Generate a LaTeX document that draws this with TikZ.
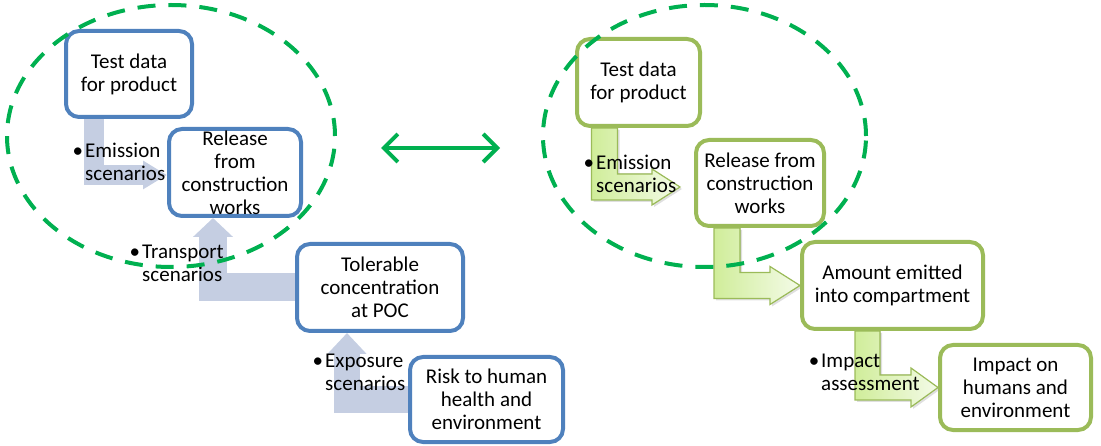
\documentclass[tikz,border=0pt]{standalone}
\usepackage{fontspec}
\setmainfont{Carlito}
\usetikzlibrary{arrows.meta,positioning,calc,shadows,backgrounds}

\definecolor{boxblue}{HTML}{4F81BD}
\definecolor{boxgreen}{HTML}{9BBB59}
\definecolor{ringgreen}{HTML}{00B050}
\definecolor{arrowblue}{HTML}{C5CEE2}
\definecolor{arrowlime}{HTML}{D0ED9A}
\definecolor{arrowpale}{HTML}{F4FBE8}

% bent block arrow: start, tip, shaft half width, head half width, head length
\newcommand{\limearrow}[5]{%
  \filldraw[limearrow] let \p1=(#1), \p2=(#2) in
    (\x1-#3,\y1) -- (\x1+#3,\y1) -- (\x1+#3,\y2+#3) -- (\x2-#5,\y2+#3)
    -- (\x2-#5,\y2+#4) -- (\x2,\y2) -- (\x2-#5,\y2-#4) -- (\x2-#5,\y2-#3)
    -- (\x1-#3,\y2-#3) -- cycle;}

\begin{document}
\begin{tikzpicture}[x=1pt,y=-1pt,font=\fontsize{21}{23}\selectfont,
    bluebox/.style={draw=boxblue,line width=4pt,fill=white,rounded corners=13pt,align=center,inner sep=1pt},
    greenbox/.style={bluebox,draw=boxgreen},
    tag/.style={align=left,anchor=base west,inner sep=0pt},
    bluearrow/.style={draw=arrowblue,line join=miter},
    limearrow/.style={draw=boxgreen,line width=1.2pt,left color=arrowlime,right color=arrowpale,
      drop shadow={opacity=0.25,shadow xshift=2pt,shadow yshift=-2pt}},
    ring/.style={draw=ringgreen,line width=4pt,dash pattern=on 18pt off 13pt}]
    \useasboundingbox (0,0) rectangle (1101,446);

    % left chain
    \node[bluebox,minimum width=126pt,minimum height=86pt] (test1) at (129,74) {Test data\\for product};
    \node[bluebox,minimum width=132pt,minimum height=87pt] (rel1) [below right=8pt and -27pt of test1] {Release\\from\\construction\\works};
    \node[bluebox,minimum width=166pt,minimum height=87pt] (tol) [below right=24pt and -8pt of rel1] {Tolerable\\concentration\\at POC};
    \node[bluebox,minimum width=153pt,minimum height=85pt] (risk) [below right=22pt and -57pt of tol] {Risk to human\\health and\\environment};

    % right chain
    \node[greenbox,minimum width=123pt,minimum height=87pt] (test2) at (638.5,82.5) {Test data\\for product};
    \node[greenbox,minimum width=128pt,minimum height=86pt] (rel2) [below right=10pt and -8pt of test2] {Release from\\construction\\works};
    \node[greenbox,minimum width=181pt,minimum height=87pt] (amount) [below right=12pt and -26pt of rel2] {Amount emitted\\into compartment};
    \node[greenbox,minimum width=151pt,minimum height=85pt] (impact) [below right=12pt and -47pt of amount] {Impact on\\humans and\\environment};

    \begin{scope}[on background layer]
    \draw[bluearrow,line width=20pt,-{Triangle[length=24pt,width=27pt]}] ([xshift=-35.5pt]test1.south) |- ([yshift=-2.5pt]rel1.west);
    \draw[bluearrow,line width=28pt,-{Triangle[length=19pt,width=39pt]}] (tol.west) -| ([xshift=-22pt]rel1.south);
    \draw[bluearrow,line width=26pt,-{Triangle[length=21pt,width=38pt]}] (risk.west) -| ([xshift=-33pt]tol.south);

    \limearrow{[xshift=-34pt]test2.south}{[xshift=-14pt,yshift=-4pt]rel2.west}{13pt}{18pt}{28pt}
    \limearrow{[xshift=-33pt]rel2.south}{amount.west}{13pt}{19pt}{30pt}
    \limearrow{[xshift=-25pt]amount.south}{impact.west}{12.5pt}{19.5pt}{27pt}
    \end{scope}

    \node[tag] (emiL) at (85,181) {\llap{\textbullet\hspace{2pt}}Emission\\scenarios};
    \node[tag] (transL) at (142,282) {\llap{\textbullet\hspace{2pt}}Transport\\scenarios};
    \node[tag] (expoL) at (325,391) {\llap{\textbullet\hspace{2pt}}Exposure\\scenarios};
    \node[tag] (emiR) at (596,193) {\llap{\textbullet\hspace{2pt}}Emission\\scenarios};
    \node[tag] (impL) at (821,391) {\llap{\textbullet\hspace{2pt}}Impact\\assessment};

    \draw[ring] (171,136) ellipse [x radius=164pt,y radius=131pt];
    \draw[ring] (704.5,136) ellipse [x radius=161.5pt,y radius=131pt];

    \coordinate (gapL) at (381,148);
    \coordinate (gapR) at (500,148);
    \draw[draw=ringgreen,line width=4pt,>={Straight Barb[length=14pt,width=28pt]},<->] (gapL) -- (gapR);
\end{tikzpicture}
\end{document}
